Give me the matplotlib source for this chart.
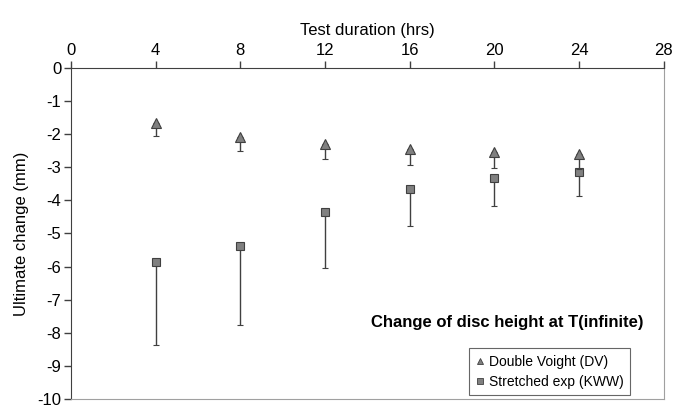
import numpy as np
import matplotlib.pyplot as plt
from matplotlib.lines import Line2D

plt.rcParams['font.family'] = ['Liberation Sans', 'DejaVu Sans']
plt.rcParams['axes.unicode_minus'] = False

## data
hours = [4, 8, 12, 16, 20, 24]
dv_mean = [-1.65, -2.09, -2.30, -2.45, -2.53, -2.60]
dv_low = [-2.05, -2.50, -2.76, -2.93, -3.02, -3.05]
kww_mean = [-5.86, -5.38, -4.34, -3.65, -3.32, -3.15]
kww_low = [-8.36, -7.76, -6.05, -4.78, -4.16, -3.86]

dv_err = [np.array(dv_mean) - np.array(dv_low), np.zeros(len(hours))]
kww_err = [np.array(kww_mean) - np.array(kww_low), np.zeros(len(hours))]

fig = plt.figure(figsize=(6.75, 4.07), dpi=100)
ax = fig.add_axes([0.105, 0.02, 0.8785, 0.813])

ax.errorbar(hours, kww_mean, yerr=kww_err, fmt='s', ms=6, mfc='#808080',
            mec='#404040', mew=0.8, ecolor='#404040', elinewidth=1,
            capsize=2.5, capthick=1, zorder=3)
ax.errorbar(hours, dv_mean, yerr=dv_err, fmt='^', ms=7, mfc='#808080',
            mec='#404040', mew=0.8, ecolor='#404040', elinewidth=1,
            capsize=2.5, capthick=1, zorder=4)

ax.set_xlim(0, 28)
ax.set_ylim(-10, 0)
ax.set_xticks(range(0, 29, 4))
ax.set_yticks(range(-10, 1))
ax.xaxis.tick_top()
ax.xaxis.set_label_position('top')
ax.tick_params(labelsize=12, length=5, width=1, color='#404040', pad=2)
ax.set_xlabel('Test duration (hrs)', fontsize=12, labelpad=6)
ax.set_ylabel('Ultimate change (mm)', fontsize=12, labelpad=6)

ax.spines['left'].set_color('#404040')
ax.spines['top'].set_color('#404040')
ax.spines['right'].set_color('#a0a0a0')
ax.spines['bottom'].set_color('#a0a0a0')

ax.text(0.965, 0.232, 'Change of disc height at T(infinite)', transform=ax.transAxes,
        ha='right', va='center', fontsize=12, fontweight='bold')

handles = [
    Line2D([], [], ls='none', marker='^', ms=5, mfc='#808080', mec='#404040', mew=0.6),
    Line2D([], [], ls='none', marker='s', ms=4.5, mfc='#808080', mec='#404040', mew=0.6),
]
leg = ax.legend(handles, ['Double Voight (DV)', 'Stretched exp (KWW)'],
                loc='lower right', bbox_to_anchor=(0.955, -0.01), fontsize=10,
                frameon=True, fancybox=False, edgecolor='#404040',
                handlelength=0.6, handletextpad=0.4, borderpad=0.45,
                labelspacing=0.45)
leg.get_frame().set_linewidth(0.8)

fig.savefig('out.png', dpi=100)
